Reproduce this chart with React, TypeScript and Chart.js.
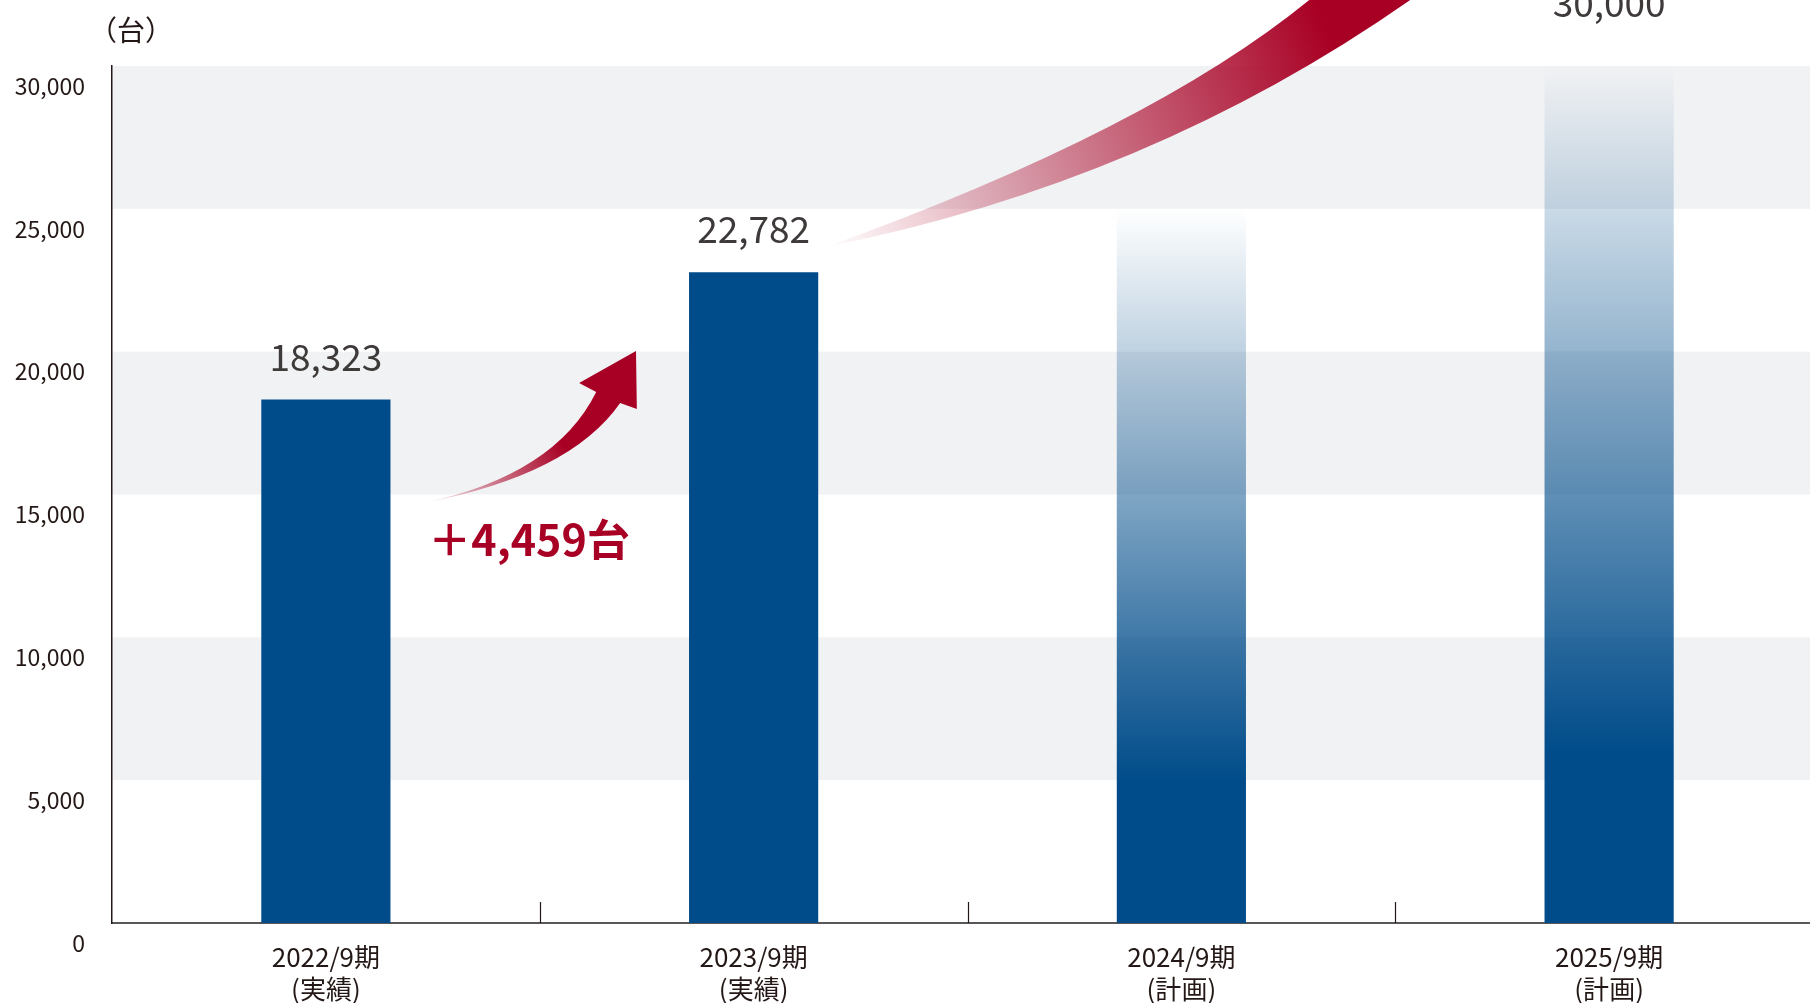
import React, { useEffect, useRef } from 'react';
import { Chart, registerables } from 'chart.js';

Chart.register(...registerables);

// ---- data ----
const categories: string[][] = [
  ['2022/9期', '(実績)'],
  ['2023/9期', '(実績)'],
  ['2024/9期', '(計画)'],
  ['2025/9期', '(計画)'],
];
const unitsSold: number[] = [18323, 22782, 25000, 30000];
const isPlan: boolean[] = [false, false, true, true];
const valueLabels: string[] = ['18,323', '22,782', '', '30,000'];
const yTickStep = 5000;
const yMax = 30000;
const bandRanges: number[][] = [
  [5000, 10000],
  [15000, 20000],
  [25000, 30000],
];
const unitLabel = '（台）';
const increaseLabel = '＋4,459台';

// ---- style ----
const FONT = '"Noto Sans CJK JP", "Noto Sans", sans-serif';
const BLUE = 'rgb(0,76,138)';
const RED = [168, 0, 36];
const BAND = '#f1f2f4';
const TEXT = '#231815';
const VALUE_TEXT = '#3e3a39';

const rgba = (c: number[], a: number) => `rgba(${c[0]},${c[1]},${c[2]},${a})`;

const decorPlugin = {
  id: 'decor',
  beforeDraw(chart: any) {
    const { ctx, chartArea, scales } = chart;
    if (!chartArea) return;
    const ys = scales.y;
    ctx.save();
    ctx.fillStyle = BAND;
    for (const [a, b] of bandRanges) {
      const y1 = ys.getPixelForValue(b);
      const y0 = ys.getPixelForValue(a);
      ctx.fillRect(chartArea.left, y1, chartArea.right - chartArea.left, y0 - y1);
    }
    ctx.restore();
  },
  afterDatasetsDraw(chart: any) {
    const { ctx, chartArea, scales } = chart;
    if (!chartArea) return;
    const xs = scales.x;
    const ys = scales.y;
    const P = (i: number, v: number): [number, number] => [xs.getPixelForValue(i), ys.getPixelForValue(v)];

    ctx.save();
    // tick marks between categories (pointing up into the plot)
    ctx.strokeStyle = TEXT;
    ctx.lineWidth = 1.2;
    for (let i = 1; i < categories.length; i++) {
      const x = Math.round((xs.getPixelForValue(i - 1) + xs.getPixelForValue(i)) / 2) + 0.5;
      ctx.beginPath();
      ctx.moveTo(x, chartArea.bottom);
      ctx.lineTo(x, chartArea.bottom - 21);
      ctx.stroke();
    }

    // value labels
    const meta = chart.getDatasetMeta(0);
    ctx.fillStyle = VALUE_TEXT;
    ctx.font = `400 37px ${FONT}`;
    ctx.textAlign = 'center';
    ctx.textBaseline = 'middle';
    meta.data.forEach((bar: any, i: number) => {
      if (!valueLabels[i]) return;
      const off = i === 3 ? 63 : 43;
      ctx.fillText(valueLabels[i], bar.x, bar.y - off);
    });

    // unit label
    ctx.fillStyle = TEXT;
    ctx.font = `400 28px ${FONT}`;
    ctx.textAlign = 'center';
    ctx.fillText(unitLabel, chartArea.left + 19, 30);

    // small arrow (2022 -> 2023)
    {
      const tail = P(0.228, 14703);
      const uc = P(0.536, 15683);
      const nu = P(0.632, 18588);
      const bl = P(0.592, 18903);
      const tip = P(0.725, 20023);
      const br = P(0.727, 17993);
      const nl = P(0.688, 18203);
      const lc = P(0.571, 15683);
      const gEnd = P(0.548, 16908);
      const g = ctx.createLinearGradient(tail[0], tail[1], gEnd[0], gEnd[1]);
      g.addColorStop(0, rgba(RED, 0.04));
      g.addColorStop(1, rgba(RED, 1));
      ctx.fillStyle = g;
      ctx.beginPath();
      ctx.moveTo(tail[0], tail[1]);
      ctx.quadraticCurveTo(uc[0], uc[1], nu[0], nu[1]);
      ctx.lineTo(bl[0], bl[1]);
      ctx.lineTo(tip[0], tip[1]);
      ctx.lineTo(br[0], br[1]);
      ctx.lineTo(nl[0], nl[1]);
      ctx.quadraticCurveTo(lc[0], lc[1], tail[0], tail[1]);
      ctx.closePath();
      ctx.fill();
    }

    // big arrow (2023 -> beyond)
    {
      const tail = P(1.169, 23664);
      const uc = P(1.927, 27760);
      const ue = P(2.299, 32311);
      const ls = P(2.535, 32311);
      const lc = P(1.927, 25939);
      const gEnd = P(2.348, 30910);
      const g = ctx.createLinearGradient(tail[0], tail[1], gEnd[0], gEnd[1]);
      g.addColorStop(0, rgba(RED, 0.0));
      g.addColorStop(1, rgba(RED, 1));
      ctx.fillStyle = g;
      ctx.beginPath();
      ctx.moveTo(tail[0], tail[1]);
      ctx.quadraticCurveTo(uc[0], uc[1], ue[0], ue[1]);
      ctx.lineTo(ue[0] + 5, ue[1] - 10);
      ctx.lineTo(ls[0] + 5, ls[1] - 10);
      ctx.lineTo(ls[0], ls[1]);
      ctx.quadraticCurveTo(lc[0], lc[1], tail[0], tail[1]);
      ctx.closePath();
      ctx.fill();
    }

    // increase label
    {
      const p = P(0.475, 13407);
      ctx.fillStyle = rgba(RED, 1);
      ctx.font = `700 43px ${FONT}`;
      ctx.textAlign = 'center';
      ctx.textBaseline = 'middle';
      ctx.fillText(increaseLabel, p[0], p[1]);
    }
    ctx.restore();
  },
};

export default function App() {
  const canvasRef = useRef<HTMLCanvasElement | null>(null);

  useEffect(() => {
    if (!canvasRef.current) return;
    const chart = new Chart(canvasRef.current, {
      type: 'bar',
      data: {
        labels: categories,
        datasets: [
          {
            data: unitsSold,
            backgroundColor: (c: any) => {
              const i = c.dataIndex;
              if (i === undefined || !isPlan[i]) return BLUE;
              const ch = c.chart;
              const ys = ch.scales && ch.scales.y;
              if (!ch.chartArea || !ys) return BLUE;
              const y0 = ys.getPixelForValue(0);
              const y1 = ys.getPixelForValue(unitsSold[i]);
              const g = ch.ctx.createLinearGradient(0, y0, 0, y1);
              g.addColorStop(0, 'rgba(0,76,138,1)');
              g.addColorStop(0.2, 'rgba(0,76,138,1)');
              g.addColorStop(1, 'rgba(0,76,138,0)');
              return g;
            },
            borderWidth: 0,
            categoryPercentage: 1,
            barPercentage: 0.302,
          },
        ],
      },
      options: {
        responsive: true,
        maintainAspectRatio: false,
        animation: false,
        layout: { padding: { top: 66, right: 7, left: 0, bottom: 0 } },
        plugins: {
          legend: { display: false },
          tooltip: { enabled: false },
          title: { display: false },
        },
        scales: {
          x: {
            offset: true,
            grid: { display: false, drawTicks: false },
            border: { display: true, color: '#595757', width: 2 },
            ticks: {
              color: TEXT,
              font: { family: FONT, size: 26, lineHeight: 32 / 26 },
              padding: 18,
              maxRotation: 0,
              autoSkip: false,
            },
            afterFit: (s: any) => {
              s.height = 80;
            },
          },
          y: {
            min: 0,
            max: yMax,
            grid: { display: false, drawTicks: false },
            border: { display: true, color: TEXT, width: 1.5 },
            ticks: {
              stepSize: yTickStep,
              color: TEXT,
              font: { family: FONT, size: 23 },
              padding: 27,
              labelOffset: 20,
              callback: (v: any) => Number(v).toLocaleString('en-US'),
            },
            afterFit: (s: any) => {
              s.width = 112;
            },
          },
        },
      },
      plugins: [decorPlugin],
    });
    return () => chart.destroy();
  }, []);

  return (
    <div style={{ position: 'fixed', left: 0, top: 0, width: 1810, height: 1003, overflow: 'hidden', background: '#fff' }}>
      <div style={{ position: 'absolute', left: 0, top: 0, width: 1830, height: 1003 }}>
        <canvas ref={canvasRef} />
      </div>
    </div>
  );
}
